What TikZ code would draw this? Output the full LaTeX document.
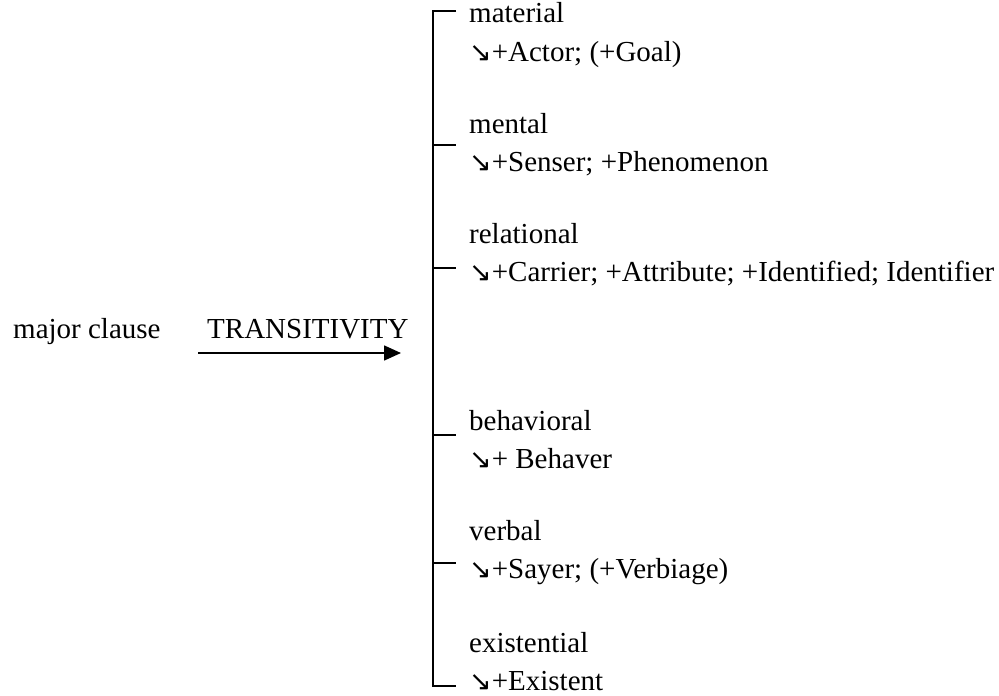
\documentclass[tikz,border=0pt]{standalone}
\usepackage{fontspec}
\setmainfont{Liberation Serif}
\newfontfamily\arrowfont{DejaVu Sans}
\usetikzlibrary{arrows.meta}
\newcommand{\dnarr}{{\arrowfont\fontsize{27}{27}\selectfont ↘}}

\begin{document}
\begin{tikzpicture}[x=1pt, y=-1pt,
    label/.style={anchor=base west, inner sep=0pt, font=\fontsize{29}{35}\selectfont},
    bar/.style={line width=1.6pt}
  ]
  \useasboundingbox (0,0) rectangle (999,696);
  \pgfmathsetmacro{\xbar}{433}
  \pgfmathsetmacro{\xtext}{469}

  \node[label] (entry) at (13,338) {major clause};
  \node[label] (sys) at (207,338) {TRANSITIVITY};
  \coordinate (arr-s) at (198,353);
  \coordinate (arr-e) at (401,353);
  \draw[bar, -{Triangle[length=17pt, width=15pt]}] (arr-s) -- (arr-e);

  % features and their realisations
  \foreach \name/\feat/\real/\yb/\ty in {
      mat/material/{+Actor; (+Goal)}/23/11,
      men/mental/{+Senser; +Phenomenon}/133/145,
      rel/relational/{+Carrier; +Attribute; +Identified; Identifier}/243/268,
      beh/behavioral/{+ Behaver}/430/435,
      ver/verbal/{+Sayer; (+Verbiage)}/540/563,
      exi/existential/{+Existent}/652/686}{
    \node[label] (\name) at (\xtext,\yb) {\feat};
    \node[label] (\name-r) at (\xtext,\yb+38) {\dnarr\real};
    \coordinate (\name-t) at (\xbar,\ty);
    \draw[bar] (\name-t) -- ++(23,0);
  }

  \draw[bar] ([xshift=23pt]mat-t) -- (mat-t) -- (exi-t) -- ([xshift=23pt]exi-t);
\end{tikzpicture}
\end{document}
